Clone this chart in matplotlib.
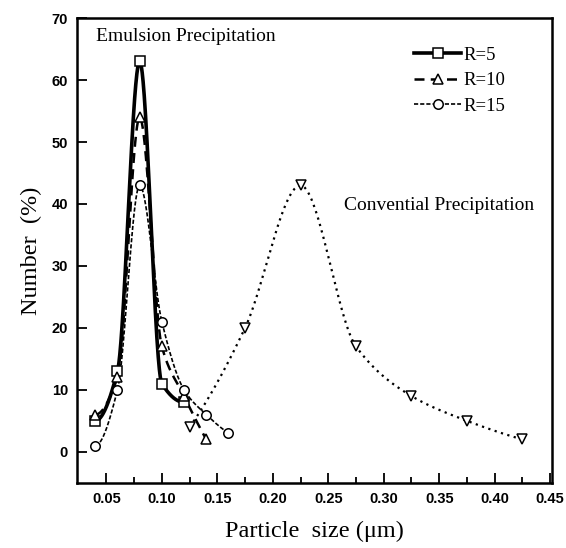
import numpy as np
import matplotlib
matplotlib.use("Agg")
import matplotlib.pyplot as plt
from matplotlib.lines import Line2D

# Data
x_r5 = [0.04, 0.06, 0.08, 0.10, 0.12]
y_r5 = [5, 13, 63, 11, 8]
x_r10 = [0.04, 0.06, 0.08, 0.10, 0.12, 0.14]
y_r10 = [6, 12, 54, 17, 9, 2]
x_r15 = [0.04, 0.06, 0.08, 0.10, 0.12, 0.14, 0.16]
y_r15 = [1, 10, 43, 21, 10, 6, 3]
x_conv = [0.125, 0.175, 0.225, 0.275, 0.325, 0.375, 0.425]
y_conv = [4, 20, 43, 17, 9, 5, 2]

x_ticks = [0.05, 0.10, 0.15, 0.20, 0.25, 0.30, 0.35, 0.40, 0.45]
y_ticks = [0, 10, 20, 30, 40, 50, 60, 70]


def pchip(x, y, n=400):
    x = np.asarray(x, float); y = np.asarray(y, float)
    h = np.diff(x); d = np.diff(y) / h
    m = np.zeros_like(y)
    for k in range(1, len(x) - 1):
        if d[k - 1] * d[k] > 0:
            w1 = 2 * h[k] + h[k - 1]; w2 = h[k] + 2 * h[k - 1]
            m[k] = (w1 + w2) / (w1 / d[k - 1] + w2 / d[k])
    def endslope(h0, h1, d0, d1):
        s = ((2 * h0 + h1) * d0 - h0 * d1) / (h0 + h1)
        if np.sign(s) != np.sign(d0):
            s = 0
        elif np.sign(d0) != np.sign(d1) and abs(s) > abs(3 * d0):
            s = 3 * d0
        return s
    m[0] = endslope(h[0], h[1], d[0], d[1])
    m[-1] = endslope(h[-1], h[-2], d[-1], d[-2])
    xs = np.linspace(x[0], x[-1], n)
    i = np.clip(np.searchsorted(x, xs, side='right') - 1, 0, len(x) - 2)
    t = (xs - x[i]) / h[i]
    h00 = 2 * t**3 - 3 * t**2 + 1; h10 = t**3 - 2 * t**2 + t
    h01 = -2 * t**3 + 3 * t**2; h11 = t**3 - t**2
    ys = h00 * y[i] + h10 * h[i] * m[i] + h01 * y[i + 1] + h11 * h[i] * m[i + 1]
    return xs, ys


fig = plt.figure(figsize=(5.66, 5.48), dpi=100)
ax = fig.add_axes([0.136, 0.119, 0.839, 0.848])

serif = ['Liberation Serif', 'DejaVu Serif']
sans = ['Liberation Sans', 'DejaVu Sans']

mk = dict(markerfacecolor='white', markeredgecolor='black', markersize=6.8, markeredgewidth=1.1)

series = [
    (x_r5, y_r5, dict(ls='-', lw=2.6), 's', 'R=5'),
    (x_r10, y_r10, dict(ls=(0, (4, 2.5)), lw=1.8), '^', 'R=10'),
    (x_r15, y_r15, dict(ls=(0, (2.5, 1.2)), lw=1.2), 'o', 'R=15'),
    (x_conv, y_conv, dict(ls=(0, (1, 2)), lw=1.6), 'v', None),
]
handles = []
for xs, ys, lst, m, lab in series:
    sx, sy = pchip(xs, ys)
    ax.plot(sx, sy, color='black', **lst)
    ax.plot(xs, ys, ls='none', marker=m, **mk, zorder=3)
    if lab:
        handles.append(Line2D([], [], color='black', marker=m, **lst, **mk, label=lab))

ax.set_xlim(0.0235, 0.4515)
ax.set_ylim(-5, 70)
ax.set_xticks(x_ticks)
ax.set_xticks([0.075, 0.125, 0.175, 0.225, 0.275, 0.325, 0.375, 0.425], minor=True)
ax.set_yticks(y_ticks)
ax.set_xticklabels([f"{v:.2f}" for v in x_ticks])
ax.tick_params(direction='in', length=7, width=1.3, labelsize=10.5, pad=6.5)
ax.tick_params(which='minor', direction='in', length=4, width=1.3)
for lbl in ax.get_xticklabels() + ax.get_yticklabels():
    lbl.set_fontfamily(sans)
    lbl.set_fontweight('bold')
for s in ax.spines.values():
    s.set_linewidth(1.8)

ax.set_xlabel('Particle  size (μm)', fontfamily=serif, fontsize=17.5, labelpad=11)
ax.set_ylabel('Number  (%)', fontfamily=serif, fontsize=17.5, labelpad=7)

ax.text(0.04, 0.961, 'Emulsion Precipitation', transform=ax.transAxes,
        fontfamily=serif, fontsize=14, va='center')
ax.text(0.562, 0.597, 'Convential Precipitation', transform=ax.transAxes,
        fontfamily=serif, fontsize=14, va='center')

leg = ax.legend(handles=handles, loc='upper left', bbox_to_anchor=(0.675, 0.975),
                frameon=False, prop={'family': serif, 'size': 13.5},
                handlelength=2.5, handletextpad=0.1, labelspacing=0.45)

fig.savefig('out.png', dpi=100)
